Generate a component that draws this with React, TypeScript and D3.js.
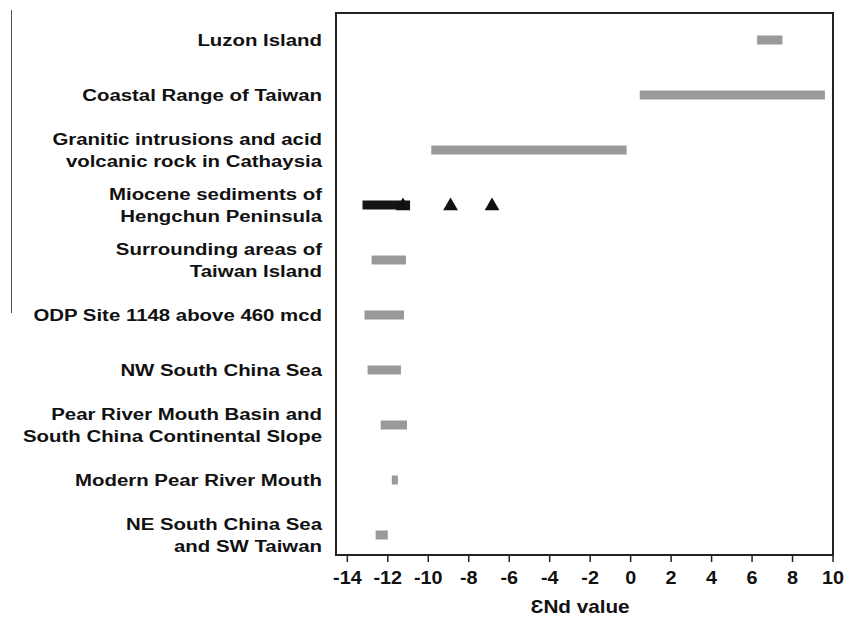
import React from 'react';
import * as d3 from 'd3';

// category labels (top to bottom), each split in display lines
const categories = [
  ['Luzon Island'],
  ['Coastal Range of Taiwan'],
  ['Granitic intrusions and acid', 'volcanic rock in Cathaysia'],
  ['Miocene sediments of', 'Hengchun Peninsula'],
  ['Surrounding areas of', 'Taiwan Island'],
  ['ODP Site 1148 above 460 mcd'],
  ['NW South China Sea'],
  ['Pear River Mouth Basin and', 'South China Continental Slope'],
  ['Modern Pear River Mouth'],
  ['NE South China Sea', 'and SW Taiwan'],
];
// eNd range per category
const lowValues = [6.25, 0.45, -9.85, -13.25, -12.8, -13.15, -13.0, -12.35, -11.8, -12.6];
const highValues = [7.5, 9.6, -0.2, -10.9, -11.1, -11.2, -11.35, -11.05, -11.5, -12.0];
// individual samples plotted as triangles (Miocene sediments)
const sampleValues = [-11.25, -8.9, -6.85];
const sampleCategory = 3;
const xTicks = [-14, -12, -10, -8, -6, -4, -2, 0, 2, 4, 6, 8, 10];

const W = 846;
const H = 617;
const left = 336, right = 833, top = 13, bottom = 555;
const font = '"Liberation Sans", Arial, sans-serif';

export default function App() {
  const x = d3.scaleLinear().domain([-14.56, 10]).range([left, right]);
  const y = d3.scalePoint<number>()
    .domain(d3.range(categories.length))
    .range([40, 535]);
  const barH = 9;
  const tri = d3.symbol().type(d3.symbolTriangle).size(95);

  return (
    <svg width={W} height={H} style={{ position: 'absolute', left: 0, top: 0, background: '#fff' }}>
      {/* thin line at far left */}
      <line x1={11.5} x2={11.5} y1={10} y2={313} stroke="#555" strokeWidth={1} />

      {/* category labels */}
      {categories.map((lines, i) => {
        const cy = y(i)!;
        const n = lines.length;
        return lines.map((ln, j) => (
          <text
            key={i + '-' + j}
            transform={`translate(322,${cy + (j - (n - 1) / 2) * 22}) scale(1.2,1)`}
            textAnchor="end"
            dy="0.36em"
            fontFamily={font}
            fontWeight="bold"
            fontSize={17}
            fill="#111"
          >{ln}</text>
        ));
      })}

      {/* range bars */}
      {categories.map((_, i) => (
        <rect
          key={'b' + i}
          x={x(lowValues[i])}
          y={y(i)! - barH / 2}
          width={x(highValues[i]) - x(lowValues[i])}
          height={barH}
          fill={i === sampleCategory ? '#151515' : '#999999'}
        />
      ))}

      {/* sample triangles */}
      {sampleValues.map((v, k) => (
        <path key={'t' + k} d={tri()!} transform={`translate(${x(v)},${y(sampleCategory)! + 1})`} fill="#111" />
      ))}

      {/* frame */}
      <rect x={left} y={top} width={right - left} height={bottom - top} fill="none" stroke="#222" strokeWidth={2} />

      {/* x axis ticks */}
      {xTicks.map(t => (
        <g key={'x' + t}>
          <line x1={x(t)} x2={x(t)} y1={bottom} y2={bottom + 7} stroke="#222" strokeWidth={1.5} />
          <text
            transform={`translate(${x(t)},${578}) scale(1.1,1)`}
            textAnchor="middle"
            dy="0.36em"
            fontFamily={font}
            fontWeight="bold"
            fontSize={18}
            fill="#111"
          >{t}</text>
        </g>
      ))}
      <text
        transform={`translate(580,${607}) scale(1.15,1)`}
        textAnchor="middle"
        dy="0.36em"
        fontFamily={font}
        fontWeight="bold"
        fontSize={18}
        fill="#111"
      >ƐNd value</text>
    </svg>
  );
}
